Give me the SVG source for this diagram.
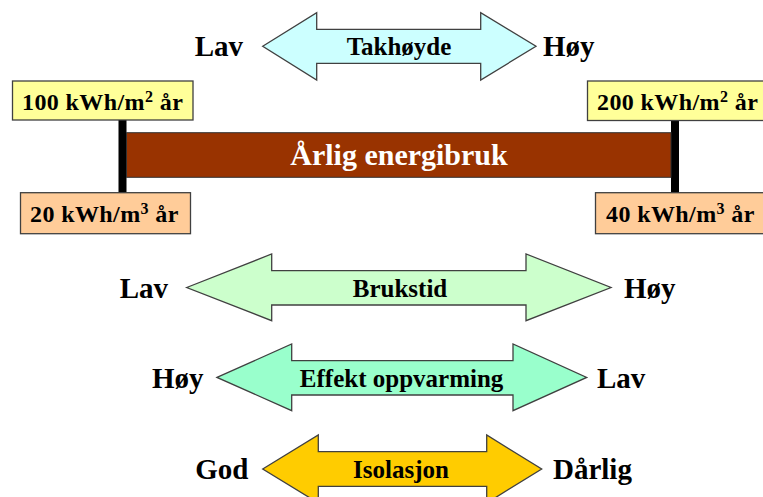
<svg xmlns="http://www.w3.org/2000/svg" width="763" height="497" viewBox="0 0 763 497">
<style>
.arrow{stroke:#404040;stroke-width:1.3;stroke-linejoin:miter}
.lbl{font-family:"Liberation Serif","Times New Roman",serif;font-weight:bold;font-size:25px;fill:#000;text-anchor:middle}
.side{font-family:"Liberation Serif","Times New Roman",serif;font-weight:bold;font-size:29px;fill:#000}
.box{stroke:#404040;stroke-width:1.3}
.btxt{font-family:"Liberation Serif","Times New Roman",serif;font-weight:bold;font-size:24px;fill:#000;letter-spacing:0.4px}
.sup{font-size:16px}
</style>
<rect width="763" height="497" fill="#ffffff"/>

<g id="takhoyde">
<polygon class="arrow" fill="#CCFFFF" points="262.7,46.3 316.7,12.7 316.7,29.3 480.7,29.3 480.7,12.7 536,46.3 480.7,80 480.7,63.3 316.7,63.3 316.7,80"/>
<text class="lbl" x="399" y="55">Takhøyde</text>
<text class="side" x="243" y="56" text-anchor="end">Lav</text>
<text class="side" x="543" y="56">Høy</text>
</g>

<g id="bars">
<rect x="118.5" y="120" width="8" height="73" fill="#000"/>
<rect x="671" y="120" width="8" height="73" fill="#000"/>
</g>

<g id="energibruk">
<rect x="126.5" y="132.7" width="544.5" height="44.6" fill="#993300" stroke="#333" stroke-width="1"/>
<text x="399" y="165" font-family="Liberation Serif, Times New Roman, serif" font-weight="bold" font-size="30" fill="#ffffff" text-anchor="middle">Årlig energibruk</text>
</g>

<g id="box100">
<rect class="box" x="12.5" y="81" width="180.5" height="39" fill="#FFFF99"/>
<text class="btxt" x="22" y="110">100 kWh/m<tspan class="sup" dy="-8">2</tspan><tspan dy="8"> år</tspan></text>
</g>
<g id="box200">
<rect class="box" x="587.5" y="81" width="190" height="39.5" fill="#FFFF99"/>
<text class="btxt" x="597" y="110">200 kWh/m<tspan class="sup" dy="-8">2</tspan><tspan dy="8"> år</tspan></text>
</g>
<g id="box20">
<rect class="box" x="20.5" y="192.7" width="170" height="41" fill="#FFCC99"/>
<text class="btxt" x="30" y="221.7">20 kWh/m<tspan class="sup" dy="-8">3</tspan><tspan dy="8"> år</tspan></text>
</g>
<g id="box40">
<rect class="box" x="595.5" y="192.7" width="180" height="41" fill="#FFCC99"/>
<text class="btxt" x="606" y="221.7">40 kWh/m<tspan class="sup" dy="-8">3</tspan><tspan dy="8"> år</tspan></text>
</g>

<g id="brukstid">
<polygon class="arrow" fill="#CCFFCC" points="186.7,287.5 271.7,254 271.7,270.7 526,270.7 526,254 611,287.5 526,320.7 526,305 271.7,305 271.7,320.7"/>
<text class="lbl" x="400" y="296.5">Brukstid</text>
<text class="side" x="168" y="297.5" text-anchor="end">Lav</text>
<text class="side" x="624" y="297.5">Høy</text>
</g>

<g id="effekt">
<polygon class="arrow" fill="#99FFCC" points="217,377.4 291.7,344 291.7,360.7 513,360.7 513,344 586.7,377.4 513,410.7 513,395 291.7,395 291.7,410.7"/>
<text class="lbl" x="401.6" y="387">Effekt oppvarming</text>
<text class="side" x="203.5" y="387.5" text-anchor="end">Høy</text>
<text class="side" x="597" y="387.5">Lav</text>
</g>

<g id="isolasjon">
<polygon class="arrow" fill="#FFCC00" points="262.7,469 318.3,435 318.3,451.7 486.7,451.7 486.7,435 541.7,469 486.7,503 486.7,486.3 318.3,486.3 318.3,503"/>
<text class="lbl" x="401" y="478">Isolasjon</text>
<text class="side" x="248.5" y="479" text-anchor="end">God</text>
<text class="side" x="553" y="479">Dårlig</text>
</g>

<g id="connectors"></g>
</svg>
